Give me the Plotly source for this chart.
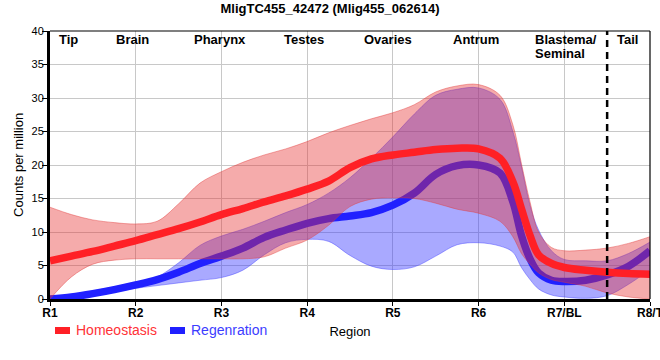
import plotly.graph_objects as go

# ---- data ----
regions = ["R1", "R2", "R3", "R4", "R5", "R6", "R7/BL", "R8/T"]
region_pos = [1, 2, 3, 4, 5, 6, 7, 8]

# sample positions along the region axis (1 = R1 ... 8 = R8/T)
x_pos = [1, 1.25, 1.5, 1.75, 2, 2.25, 2.5, 2.75, 3, 3.25, 3.5, 3.75, 4, 4.25, 4.5,
         4.75, 5, 5.25, 5.5, 5.75, 6, 6.25, 6.4, 6.5, 6.6, 6.7, 6.85, 7, 7.25, 7.5,
         7.75, 8]

homeo_mean = [5.7, 6.4, 7.1, 7.9, 8.7, 9.6, 10.5, 11.5, 12.6, 13.5, 14.5, 15.4, 16.4,
              17.6, 19.6, 20.9, 21.5, 21.9, 22.3, 22.5, 22.4, 21.0, 17.5, 13.5, 9.5,
              6.6, 5.3, 4.7, 4.3, 4.0, 3.8, 3.7]
homeo_upper = [13.7, 12.6, 11.8, 11.4, 11.2, 11.6, 14.2, 17.3, 19.0, 20.4, 21.5, 22.4,
               23.5, 24.8, 25.9, 26.9, 27.8, 29.0, 30.9, 31.8, 32.0, 30.4, 26.0, 20.2,
               14.5, 10.0, 7.7, 7.2, 7.3, 7.6, 8.3, 9.3]
homeo_lower = [0.0, 3.3, 5.2, 5.8, 6.0, 6.0, 6.0, 6.0, 6.0, 6.0, 6.3, 7.6, 8.8, 11.0,
               13.8, 14.9, 15.1, 15.0, 14.3, 13.4, 12.8, 11.6, 9.3, 6.8, 5.2, 3.9, 2.9,
               2.5, 1.9, 0.9, 0.3, 0.0]

regen_mean = [0.0, 0.3, 0.8, 1.4, 2.1, 2.9, 4.0, 5.3, 6.4, 7.6, 9.2, 10.3, 11.3, 12.0,
              12.4, 12.9, 14.0, 15.8, 18.6, 19.9, 20.0, 18.8, 14.5, 9.5, 6.0, 3.9, 2.8,
              2.6, 2.8, 3.6, 4.9, 7.2]
regen_upper = [0.4, 0.7, 1.2, 1.8, 2.5, 3.3, 5.4, 8.0, 9.4, 10.4, 11.6, 12.9, 14.1,
               15.8, 18.1, 21.0, 24.2, 27.6, 30.4, 31.3, 31.5, 29.8, 25.0, 19.8, 14.0,
               10.3, 7.2, 5.9, 5.7, 5.7, 6.8, 8.5]
regen_lower = [0.0, 0.2, 0.6, 1.1, 1.6, 2.0, 2.4, 2.8, 3.2, 4.3, 6.6, 8.4, 8.9, 8.6,
               6.5, 4.9, 4.4, 4.8, 6.4, 8.1, 8.4, 7.9, 7.0, 4.7, 2.9, 1.5, 0.6, 0.3,
               0.1, 0.5, 2.2, 4.4]

y_ticks = [0, 5, 10, 15, 20, 25, 30, 35, 40]

tissue_labels = ["Tip", "Brain", "Pharynx", "Testes", "Ovaries", "Antrum", "Tail"]
tissue_pos = [1.215, 1.96, 2.98, 3.96, 4.94, 5.97, 7.74]
boundary_pos = 7.5

series_names = ["Homeostasis", "Regenration"]

# ---- styles ----
FONT = "Liberation Sans, Arial, sans-serif"
RED = "rgb(255,32,38)"
BLUE = "rgb(32,32,255)"
RED_FILL = "rgba(230,45,45,0.40)"
BLUE_FILL = "rgba(50,50,255,0.42)"
RED_EDGE = "rgba(225,60,60,0.55)"
BLUE_EDGE = "rgba(60,60,255,0.55)"

fig = go.Figure()

# regeneration band + line (drawn first, beneath)
fig.add_trace(go.Scatter(x=x_pos, y=regen_lower, mode="lines",
                         line=dict(color=BLUE_EDGE, width=0.8, shape="spline"),
                         showlegend=False, hoverinfo="skip"))
fig.add_trace(go.Scatter(x=x_pos, y=regen_upper, mode="lines", fill="tonexty",
                         fillcolor=BLUE_FILL,
                         line=dict(color=BLUE_EDGE, width=0.8, shape="spline"),
                         showlegend=False, hoverinfo="skip"))
fig.add_trace(go.Scatter(x=x_pos, y=regen_mean, mode="lines", name=series_names[1],
                         line=dict(color=BLUE, width=7.5, shape="spline"),
                         showlegend=False))

# homeostasis band + line
fig.add_trace(go.Scatter(x=x_pos, y=homeo_lower, mode="lines",
                         line=dict(color=RED_EDGE, width=0.8, shape="spline"),
                         showlegend=False, hoverinfo="skip"))
fig.add_trace(go.Scatter(x=x_pos, y=homeo_upper, mode="lines", fill="tonexty",
                         fillcolor=RED_FILL,
                         line=dict(color=RED_EDGE, width=0.8, shape="spline"),
                         showlegend=False, hoverinfo="skip"))
fig.add_trace(go.Scatter(x=x_pos, y=homeo_mean, mode="lines", name=series_names[0],
                         line=dict(color=RED, width=7.5, shape="spline"),
                         showlegend=False))

shapes = []
# dashed boundary line
shapes.append(dict(type="line", xref="x", yref="y", x0=boundary_pos, x1=boundary_pos,
                   y0=0, y1=40, line=dict(color="black", width=2.5, dash="7px,5px")))
# thin top and right frame
shapes.append(dict(type="line", xref="paper", yref="paper", x0=0, x1=1, y0=1, y1=1,
                   line=dict(color="black", width=1.2)))
shapes.append(dict(type="line", xref="paper", yref="paper", x0=1, x1=1, y0=0, y1=1,
                   line=dict(color="black", width=1.2)))
# manual legend swatches
shapes.append(dict(type="rect", xref="paper", yref="paper", x0=0.0083, x1=0.0333,
                   y0=-0.1306, y1=-0.1045, fillcolor=RED, line=dict(width=0)))
shapes.append(dict(type="rect", xref="paper", yref="paper", x0=0.2, x1=0.225,
                   y0=-0.1306, y1=-0.1045, fillcolor=BLUE, line=dict(width=0)))

annotations = []
for lab, xp in zip(tissue_labels, tissue_pos):
    annotations.append(dict(x=xp, y=40, xref="x", yref="y", text=f"<b>{lab}</b>",
                            showarrow=False, xanchor="center", yanchor="top", yshift=1,
                            font=dict(family=FONT, size=13, color="black")))
annotations.append(dict(x=6.64, y=40, xref="x", yref="y", text="<b>Blastema/</b>",
                        showarrow=False, xanchor="left", yanchor="top", yshift=1,
                        font=dict(family=FONT, size=13, color="black")))
annotations.append(dict(x=6.64, y=40, xref="x", yref="y", text="<b>Seminal</b>",
                        showarrow=False, xanchor="left", yanchor="top", yshift=-13,
                        font=dict(family=FONT, size=13, color="black")))
# legend texts
annotations.append(dict(x=0.04, y=-0.1175, xref="paper", yref="paper",
                        text=series_names[0], showarrow=False, xanchor="left",
                        yanchor="middle", font=dict(family=FONT, size=14,
                                                    color="rgb(255,50,55)")))
annotations.append(dict(x=0.2317, y=-0.1175, xref="paper", yref="paper",
                        text=series_names[1], showarrow=False, xanchor="left",
                        yanchor="middle", font=dict(family=FONT, size=14,
                                                    color="rgb(60,60,255)")))
# y axis title
annotations.append(dict(x=-0.0535, y=0.5, xref="paper", yref="paper",
                        text="Counts per million", textangle=-90, showarrow=False,
                        xanchor="center", yanchor="middle",
                        font=dict(family=FONT, size=13, color="black")))

fig.update_layout(
    width=660, height=360,
    margin=dict(l=50, r=10, t=31, b=61),
    paper_bgcolor="white", plot_bgcolor="white",
    font=dict(family=FONT, size=12, color="black"),
    title=dict(text="<b>MligTC455_42472 (Mlig455_062614)</b>", x=0.5, xanchor="center",
               y=0.977, yanchor="middle", font=dict(family=FONT, size=13, color="black")),
    showlegend=False,
    shapes=shapes,
    annotations=annotations,
    xaxis=dict(range=[1, 8], tickvals=region_pos, ticktext=[f"<b>{r}</b>" for r in regions],
               automargin=False, ticklabeloverflow="allow", ticklabelstandoff=-3,
               showgrid=True, gridcolor="rgb(200,200,200)", gridwidth=1,
               showline=True, linecolor="black", linewidth=3,
               ticks="outside", ticklen=4, tickcolor="black", tickwidth=1,
               tickfont=dict(family=FONT, size=12, color="black"),
               zeroline=False,
               title=dict(text="Region", standoff=8,
                          font=dict(family=FONT, size=13, color="black"))),
    yaxis=dict(range=[0, 40], tickvals=y_ticks, automargin=False,
               ticklabelstandoff=-4,
               showgrid=True, gridcolor="rgb(200,200,200)", gridwidth=1,
               showline=True, linecolor="black", linewidth=3,
               ticks="outside", ticklen=5, tickcolor="black", tickwidth=1,
               tickfont=dict(family=FONT, size=11, color="black"),
               zeroline=False),
)

fig.write_html("out.html", config={"displayModeBar": False},
               post_script="document.body.style.margin='0px';")
